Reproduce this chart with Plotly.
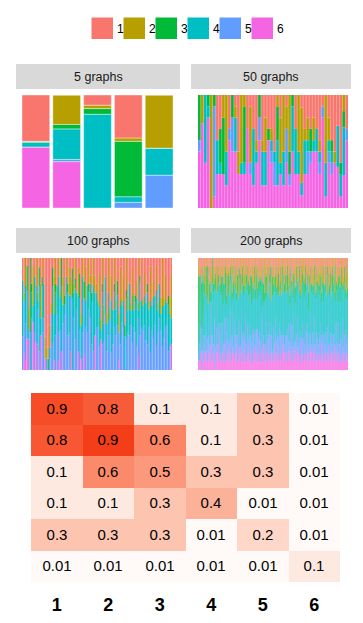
import plotly.graph_objects as go

W, H = 363, 623

categories = ["1", "2", "3", "4", "5", "6"]
fills = ["#F8766D", "#B79F00", "#00BA38", "#00BFC4", "#619CFF", "#F564E3"]

# share of each category (1..6) per graph (top -> bottom)
graphs_5 = [
    [41, 0, 1, 4, 0, 54],
    [0, 26, 4, 27, 2, 41],
    [9, 3, 5, 83, 0, 0],
    [38, 3, 49, 5, 5, 0],
    [0, 47, 0, 24, 29, 0],
]

# rough weights (digits = categories 1..6) for the dense panels
graphs_50 = [
    "004015", "020006", "000604", "001108", "090000", "001081", "400303", "303103", "025003", "050302",
    "300016", "002035", "110305", "520003", "060103", "015103", "300007", "150013", "300502", "410104",
    "002026", "410302", "230302", "301006", "310114",
    "500122", "013402", "240103", "050302", "120034", "052012", "001405", "300403", "050203", "160101",
    "310303", "220123", "302014", "220105", "300205", "410113", "100018", "060301", "220114", "401113",
    "510004", "300404", "601201", "011302", "300016",
]

graphs_100 = [
    "200530", "410062", "030441", "103604", "520013", "006300", "301360", "150206", "200613", "030630",
    "410143", "102720", "340204", "021540", "300460", "720001", "810010", "901000", "620110", "410050",
    "102630", "240501", "031540", "300360", "020631", "410450", "003702", "230250", "401160", "020280",
    "301540", "130440", "220062", "103700", "310360", "021530", "400270", "130602", "203450", "510301",
    "020640", "302072", "140350", "300540", "031270", "210460", "401530", "030720", "220504", "310450",
    "500350", "240530", "610103", "031630", "520230", "200460", "610320", "040540", "510050", "230620",
    "600430", "031450", "510340", "302460", "620031", "140530", "510260", "230350", "601300", "041540",
    "520350", "300640", "610260", "130530", "420250", "501450", "320630", "610152", "021640", "500350",
    "510350", "230460", "600540", "301630", "510250", "140620", "600350", "320540", "500460", "130730",
    "610350", "300460", "520250", "060530", "510440", "230350", "600360", "401520", "520430", "250303",
]

graphs_200 = [
    "115311", "027201", "203521", "110632", "301432", "016220", "124412", "200731", "031522", "102343",
    "220611", "013422", "104531", "230241", "011722", "302512", "120363", "041431", "210523", "003631",
    "121612", "030442", "201350", "112721", "040432", "210253", "103612", "021541", "300423", "112632",
    "031711", "202341", "110532", "023412", "301621", "120433", "014251", "202722", "041331", "110542",
    "203613", "021432", "130521", "102352", "020731", "311422", "101543", "032612", "210341", "013532",
    "120622", "041413", "202531", "013341", "230612", "101432", "022721", "310243", "021532", "102631",
    "031422", "210513", "112631", "040352", "201721", "013442", "120532", "032613", "301341", "110722",
    "022531", "203412", "120641", "031322", "210531", "102712", "041423", "200632", "013541", "121322",
    "301622", "020531", "112413", "031731", "200442", "123521", "010632", "302413", "041521", "110343",
    "023612", "201441", "130522", "012713", "310431", "021542", "102631", "230422", "011532", "202611",
    "121432", "030621", "201513", "112342", "040722", "211431", "103522", "022613", "310341", "031532",
    "102622", "220431", "011713", "130522", "021443", "301612", "112531", "040432", "201622", "013541",
    "210432", "022713", "131421", "010632", "301542", "120331", "032621", "201443", "110712", "042522",
    "301431", "012622", "120543", "031712", "210421", "102632", "041531", "220413", "013622", "111542",
    "030731", "202421", "121612", "013532", "300441", "021723", "110532", "042412", "201631", "120522",
    "012443", "301612", "120531", "031422", "210712", "102543", "040621", "221432", "012531", "301622",
    "120712", "031431", "202622", "110541", "041413", "210632", "013722", "122431", "300522", "031612",
    "102541", "220431", "011632", "130712", "021443", "301521", "112632", "040422", "201712", "013531",
    "210622", "022431", "131512", "010733", "301442", "120621", "032512", "201432", "111721", "042531",
    "301622", "012531", "120442", "031712", "210531", "102622", "041441", "220612", "013532", "121421",
]

# heatmap: estimated values and printed labels (rows top -> bottom)
heat_values = [
    [0.87, 0.80, 0.10, 0.10, 0.30, 0.01],
    [0.82, 0.93, 0.62, 0.10, 0.30, 0.01],
    [0.10, 0.60, 0.52, 0.30, 0.30, 0.01],
    [0.10, 0.10, 0.30, 0.40, 0.01, 0.01],
    [0.30, 0.30, 0.30, 0.01, 0.20, 0.01],
    [0.01, 0.01, 0.01, 0.01, 0.01, 0.10],
]
heat_labels = [
    ["0.9", "0.8", "0.1", "0.1", "0.3", "0.01"],
    ["0.8", "0.9", "0.6", "0.1", "0.3", "0.01"],
    ["0.1", "0.6", "0.5", "0.3", "0.3", "0.01"],
    ["0.1", "0.1", "0.3", "0.4", "0.01", "0.01"],
    ["0.3", "0.3", "0.3", "0.01", "0.2", "0.01"],
    ["0.01", "0.01", "0.01", "0.01", "0.01", "0.1"],
]


def fx(x):
    return x / W


def fy(y):
    return 1 - y / H


def to_rows(data):
    return [[int(c) for c in s] if isinstance(s, str) else s for s in data]


# title, data, strip box, bar box, outline
panels = [
    ("5 graphs", graphs_5, (16, 64, 180, 89), (22, 173, 95, 208), 0.4),
    ("50 graphs", graphs_50, (191, 64, 351, 89), (198, 348, 95, 208), 0),
    ("100 graphs", graphs_100, (16, 228, 180, 253), (22, 172, 258, 370), 0),
    ("200 graphs", graphs_200, (191, 228, 351, 253), (198, 348, 258, 370), 0),
]

fig = go.Figure()
layout_axes = {}
shapes = []
annotations = []

for i, (title, data, strip, box, edge) in enumerate(panels, start=1):
    rows = to_rows(data)
    n = len(rows)
    xs = list(range(1, n + 1))
    suffix = "" if i == 1 else str(i)
    # add in reverse so category 1 ends up on top of the stack
    for k in reversed(range(6)):
        fig.add_trace(go.Bar(
            x=xs,
            y=[r[k] / sum(r) for r in rows],
            marker=dict(color=fills[k], line=dict(width=edge, color="white")),
            width=0.9,
            xaxis=f"x{suffix}",
            yaxis=f"y{suffix}",
            showlegend=False,
            hoverinfo="skip",
        ))
    layout_axes[f"xaxis{suffix}"] = dict(
        domain=[fx(box[0]), fx(box[1])], range=[0.55, n + 0.45],
        visible=False, anchor=f"y{suffix}", fixedrange=True)
    layout_axes[f"yaxis{suffix}"] = dict(
        domain=[fy(box[3]), fy(box[2])], range=[0, 1],
        visible=False, anchor=f"x{suffix}", fixedrange=True)
    shapes.append(dict(type="rect", xref="paper", yref="paper",
                       x0=fx(strip[0]), x1=fx(strip[2]), y0=fy(strip[3]), y1=fy(strip[1]),
                       fillcolor="#D9D9D9", line=dict(width=0), layer="below"))
    annotations.append(dict(xref="paper", yref="paper", showarrow=False,
                            x=fx((strip[0] + strip[2]) / 2), y=fy((strip[1] + strip[3]) / 2),
                            xanchor="center", yanchor="middle",
                            text=title, font=dict(size=12.5, color="#1A1A1A")))

# heatmap
fig.add_trace(go.Heatmap(
    z=heat_values,
    x=[1, 2, 3, 4, 5, 6],
    y=[1, 2, 3, 4, 5, 6],
    text=heat_labels,
    texttemplate="%{text}",
    textfont=dict(size=15, color="black"),
    zmin=0, zmax=1,
    colorscale=[[0, "#FFFCFA"], [0.3, "#FDC4B0"], [0.6, "#FB8A6A"], [0.9, "#F5451F"], [1, "#F22E10"]],
    showscale=False,
    hoverinfo="skip",
    xaxis="x5", yaxis="y5",
))
layout_axes["xaxis5"] = dict(
    domain=[fx(31), fx(340)], range=[0.5, 6.5], anchor="y5",
    tickvals=[1, 2, 3, 4, 5, 6], ticktext=[f"<b>{c}</b>" for c in categories],
    tickfont=dict(size=18, color="black"), ticks="", ticklabelstandoff=10,
    showgrid=False, zeroline=False, showline=False, fixedrange=True)
layout_axes["yaxis5"] = dict(
    domain=[fy(582), fy(393)], range=[6.5, 0.5], anchor="x5",
    visible=False, fixedrange=True)

# legend drawn as keys + labels
for k, cat in enumerate(categories):
    x0 = 91 + 32 * k
    shapes.append(dict(type="rect", xref="paper", yref="paper",
                       x0=fx(x0), x1=fx(x0 + 22.5), y0=fy(39.5), y1=fy(17),
                       fillcolor=fills[k], line=dict(color="white", width=1)))
    annotations.append(dict(xref="paper", yref="paper", showarrow=False,
                            x=fx(x0 + 23.5), y=fy(28.5), xanchor="left", yanchor="middle",
                            text=cat, font=dict(size=12, color="black")))

fig.update_layout(
    width=W, height=H,
    margin=dict(l=0, r=0, t=0, b=0),
    paper_bgcolor="white",
    plot_bgcolor="white",
    barmode="stack",
    font=dict(family="Liberation Sans, Arial, sans-serif"),
    shapes=shapes,
    annotations=annotations,
    showlegend=False,
    **layout_axes,
)

# staticPlot keeps very thin bars at their true width; antialias them
# instead of snapping to whole pixels
post = (
    "document.body.style.margin='0';document.body.style.padding='0';"
    "var s=document.createElement('style');"
    "s.textContent='.bars path{shape-rendering:geometricPrecision !important}';"
    "document.head.appendChild(s);"
)
fig.write_html("out.html", config={"staticPlot": True}, post_script=post)
